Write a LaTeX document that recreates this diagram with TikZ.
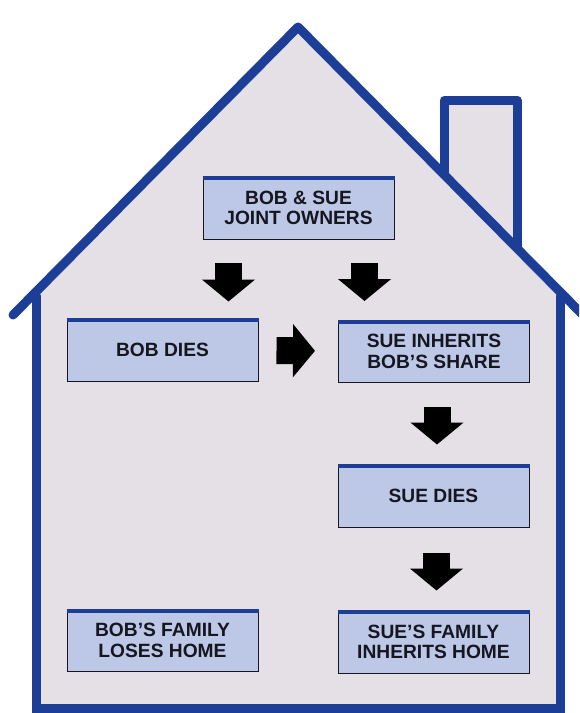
\documentclass[tikz,border=0pt]{standalone}
\usepackage{fontspec}
\setmainfont{Liberation Sans}
\usetikzlibrary{arrows.meta}
\definecolor{houseblue}{RGB}{28,62,150}
\definecolor{wallfill}{RGB}{228,224,230}
\definecolor{boxfill}{RGB}{188,200,230}
\definecolor{inkblack}{RGB}{22,22,32}
\tikzset{
	stepbox/.style={draw=inkblack, line width=1pt, fill=boxfill, minimum width=191pt, minimum height=62pt,
		align=center, text=inkblack, font=\fontsize{19.2}{20.5}\selectfont\bfseries},
	blockarrow/.style={black, line width=27pt, -{Triangle[length=22pt, width=52pt]}},
	houseline/.style={houseblue, line width=9pt, line cap=round}
}
\begin{document}
\begin{tikzpicture}[x=1pt, y=-1pt]  % joint ownership house
	\useasboundingbox (0,0) rectangle (579,713);
	\clip (0,0) rectangle (579,713);
	\fill[wallfill] (36,708) -- (36,292) -- (298,27) -- (560,292) -- (560,708) -- cycle;
	\fill[wallfill] (444,176) -- (444,100) -- (517,100) -- (517,250) -- cycle;
	\draw[houseline, line join=round] (444,172) -- (444,100) -- (517,100) -- (517,248);
	\draw[houseline] (36,296) -- (36,708) -- (560,708) -- (560,296);
	\draw[houseline, line join=round] (13,315) -- (298,27) -- (583,315);
	\node[stepbox] (own) at (298.5,208) {BOB \& SUE\\JOINT OWNERS};
	\node[stepbox] (bobdies) at (162.5,350) {BOB DIES};
	\node[stepbox] (sueinh) at (434,351.5) {SUE INHERITS\\BOB'S SHARE};
	\node[stepbox] (suedies) at (433.5,496) {SUE DIES};
	\node[stepbox] (bobfam) at (162.5,640.5) {BOB'S FAMILY\\LOSES HOME};
	\node[stepbox] (suefam) at (433.5,642) {SUE'S FAMILY\\INHERITS HOME};
	\foreach \n in {own,bobdies,sueinh,suedies,bobfam,suefam}
		\draw[houseblue, line width=4pt] ([yshift=-1.5pt]\n.north west) -- ([yshift=-1.5pt]\n.north east);
	\draw[blockarrow, shorten <=23pt, shorten >=17pt] ([xshift=-70pt]own.south) -- ([xshift=-70pt]own.south |- bobdies.north);
	\draw[blockarrow, shorten <=23pt, shorten >=19pt] ([xshift=66pt]own.south) -- ([xshift=66pt]own.south |- sueinh.north);
	\draw[blockarrow, shorten <=18pt, shorten >=23pt] (bobdies) -- (sueinh);
	\draw[blockarrow, shorten <=24pt, shorten >=20pt] ([xshift=3pt]sueinh.south) -- ([xshift=3pt]sueinh.south |- suedies.north);
	\draw[blockarrow, shorten <=25pt, shorten >=20pt] ([xshift=3pt]suedies.south) -- ([xshift=3pt]suedies.south |- suefam.north);
\end{tikzpicture}
\end{document}
